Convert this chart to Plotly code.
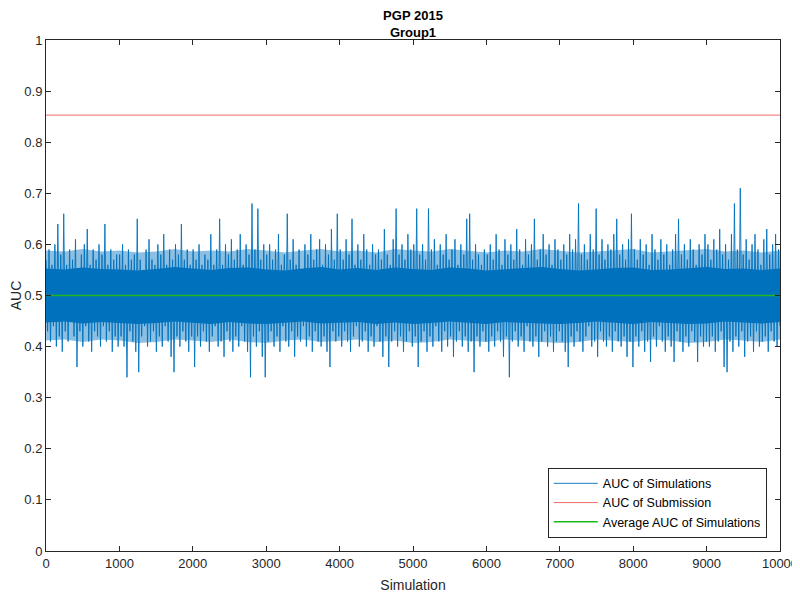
import numpy as np
import plotly.graph_objects as go

# AUC values: one local peak and one local trough
# for every 40 simulations (rows of 25 = 1000 simulations each)
sim_peaks = [
    0.57, 0.59, 0.56, 0.60, 0.64, 0.58, 0.66, 0.56, 0.59, 0.57, 0.61, 0.55, 0.58, 0.60, 0.63, 0.56, 0.59, 0.57, 0.60, 0.58, 0.64, 0.56, 0.59, 0.57, 0.58,
    0.58, 0.60, 0.56, 0.59, 0.57, 0.58, 0.65, 0.57, 0.55, 0.59, 0.61, 0.57, 0.56, 0.60, 0.58, 0.62, 0.56, 0.59, 0.57, 0.60, 0.58, 0.64, 0.57, 0.59, 0.56,
    0.59, 0.57, 0.60, 0.56, 0.58, 0.57, 0.62, 0.56, 0.59, 0.65, 0.56, 0.60, 0.58, 0.61, 0.57, 0.59, 0.62, 0.56, 0.60, 0.58, 0.68, 0.59, 0.67, 0.57, 0.60,
    0.58, 0.60, 0.57, 0.59, 0.62, 0.56, 0.58, 0.66, 0.57, 0.61, 0.56, 0.59, 0.55, 0.60, 0.58, 0.62, 0.57, 0.59, 0.61, 0.56, 0.60, 0.58, 0.63, 0.57, 0.66,
    0.59, 0.57, 0.61, 0.58, 0.65, 0.56, 0.60, 0.57, 0.62, 0.59, 0.56, 0.60, 0.58, 0.59, 0.57, 0.63, 0.58, 0.56, 0.61, 0.67, 0.58, 0.60, 0.57, 0.62, 0.59,
    0.60, 0.67, 0.58, 0.60, 0.57, 0.67, 0.59, 0.61, 0.56, 0.60, 0.58, 0.62, 0.57, 0.59, 0.61, 0.56, 0.60, 0.58, 0.65, 0.66, 0.57, 0.60, 0.58, 0.56, 0.59,
    0.58, 0.60, 0.57, 0.62, 0.59, 0.56, 0.61, 0.58, 0.60, 0.57, 0.63, 0.59, 0.56, 0.61, 0.58, 0.60, 0.65, 0.57, 0.59, 0.62, 0.58, 0.60, 0.56, 0.61, 0.59,
    0.57, 0.60, 0.58, 0.62, 0.59, 0.61, 0.68, 0.58, 0.60, 0.57, 0.62, 0.59, 0.67, 0.58, 0.61, 0.57, 0.60, 0.59, 0.62, 0.65, 0.58, 0.60, 0.57, 0.61, 0.66,
    0.59, 0.57, 0.61, 0.58, 0.60, 0.56, 0.62, 0.59, 0.57, 0.61, 0.58, 0.60, 0.56, 0.59, 0.62, 0.65, 0.58, 0.60, 0.57, 0.61, 0.59, 0.56, 0.60, 0.58, 0.62,
    0.60, 0.57, 0.61, 0.59, 0.63, 0.58, 0.60, 0.57, 0.62, 0.68, 0.59, 0.71, 0.58, 0.61, 0.57, 0.60, 0.62, 0.59, 0.56, 0.61, 0.63, 0.58, 0.60, 0.62, 0.59,
]
sim_troughs = [
    0.43, 0.41, 0.44, 0.40, 0.42, 0.39, 0.43, 0.41, 0.45, 0.42, 0.36, 0.43, 0.40, 0.44, 0.41, 0.39, 0.43, 0.42, 0.40, 0.44, 0.41, 0.43, 0.39, 0.42, 0.40,
    0.42, 0.40, 0.34, 0.43, 0.41, 0.39, 0.35, 0.42, 0.44, 0.40, 0.41, 0.43, 0.39, 0.42, 0.40, 0.44, 0.41, 0.38, 0.35, 0.42, 0.40, 0.43, 0.41, 0.39, 0.42,
    0.36, 0.42, 0.40, 0.43, 0.41, 0.39, 0.42, 0.44, 0.40, 0.41, 0.38, 0.43, 0.41, 0.39, 0.42, 0.40, 0.44, 0.41, 0.39, 0.34, 0.42, 0.40, 0.43, 0.38, 0.34,
    0.41, 0.43, 0.40, 0.42, 0.39, 0.44, 0.41, 0.40, 0.43, 0.38, 0.42, 0.41, 0.44, 0.40, 0.42, 0.39, 0.43, 0.41, 0.40, 0.42, 0.39, 0.36, 0.43, 0.41, 0.42,
    0.40, 0.43, 0.41, 0.39, 0.42, 0.44, 0.40, 0.41, 0.43, 0.39, 0.42, 0.40, 0.44, 0.41, 0.38, 0.42, 0.36, 0.41, 0.43, 0.40, 0.42, 0.39, 0.41, 0.43, 0.40,
    0.42, 0.36, 0.41, 0.43, 0.39, 0.42, 0.40, 0.44, 0.41, 0.39, 0.43, 0.40, 0.42, 0.38, 0.41, 0.43, 0.40, 0.42, 0.39, 0.41, 0.35, 0.42, 0.40, 0.43, 0.41,
    0.39, 0.42, 0.40, 0.43, 0.41, 0.38, 0.42, 0.34, 0.41, 0.43, 0.40, 0.42, 0.39, 0.44, 0.41, 0.40, 0.42, 0.38, 0.41, 0.43, 0.40, 0.42, 0.39, 0.41, 0.43,
    0.41, 0.39, 0.36, 0.42, 0.40, 0.43, 0.41, 0.39, 0.42, 0.44, 0.40, 0.41, 0.38, 0.43, 0.41, 0.40, 0.42, 0.39, 0.43, 0.41, 0.40, 0.42, 0.38, 0.41, 0.36,
    0.42, 0.40, 0.43, 0.39, 0.41, 0.37, 0.42, 0.40, 0.44, 0.41, 0.39, 0.42, 0.40, 0.37, 0.43, 0.41, 0.39, 0.42, 0.40, 0.43, 0.41, 0.37, 0.42, 0.40, 0.41,
    0.40, 0.42, 0.39, 0.41, 0.43, 0.36, 0.35, 0.41, 0.39, 0.42, 0.40, 0.43, 0.38, 0.41, 0.42, 0.39, 0.43, 0.40, 0.41, 0.42, 0.39, 0.43, 0.41, 0.40, 0.44,
]
# edges of the solid (saturated) core of the band, every 250 simulations
core_upper = [
    0.553, 0.551, 0.555, 0.552, 0.551, 0.549, 0.552, 0.556, 0.553, 0.55, 0.554, 0.555, 0.551, 0.549,
    0.553, 0.556, 0.551, 0.554, 0.55, 0.555, 0.552, 0.55, 0.555, 0.553, 0.549, 0.551, 0.554,
    0.556, 0.552, 0.549, 0.551, 0.554, 0.555, 0.55, 0.551, 0.554, 0.556, 0.552, 0.553, 0.55, 0.553,
]
core_lower = [
    0.447, 0.449, 0.445, 0.448, 0.446, 0.444, 0.446, 0.449, 0.447, 0.444, 0.448, 0.445, 0.444, 0.447,
    0.449, 0.445, 0.447, 0.448, 0.444, 0.447, 0.444, 0.446, 0.449, 0.447, 0.444, 0.448, 0.446,
    0.445, 0.444, 0.446, 0.449, 0.447, 0.444, 0.448, 0.446, 0.444, 0.445, 0.449, 0.447, 0.445, 0.448,
]
# edges of the half-dense fringe around the core, every 250 simulations
fringe_upper = [
    0.588, 0.586, 0.591, 0.586, 0.588, 0.584, 0.586, 0.591, 0.586, 0.588, 0.586, 0.591, 0.588, 0.584,
    0.588, 0.591, 0.586, 0.588, 0.584, 0.591, 0.588, 0.586, 0.591, 0.588, 0.584, 0.588, 0.586,
    0.591, 0.588, 0.584, 0.586, 0.588, 0.591, 0.584, 0.586, 0.588, 0.591, 0.586, 0.588, 0.584, 0.588,
]
fringe_lower = [
    0.412, 0.414, 0.409, 0.414, 0.412, 0.407, 0.409, 0.414, 0.412, 0.409, 0.414, 0.409, 0.407, 0.412,
    0.414, 0.409, 0.412, 0.414, 0.409, 0.412, 0.407, 0.409, 0.414, 0.412, 0.409, 0.414, 0.412,
    0.409, 0.407, 0.409, 0.414, 0.412, 0.409, 0.414, 0.412, 0.407, 0.409, 0.414, 0.412, 0.409, 0.414,
]
submission_auc = 0.853
average_auc = 0.5
n_simulations = 10000

x_ticks = list(range(0, 10001, 1000))
x_tick_labels = [str(v) for v in x_ticks]
y_ticks = [round(0.1 * i, 1) for i in range(11)]
y_tick_labels = ["0", "0.1", "0.2", "0.3", "0.4", "0.5", "0.6", "0.7", "0.8", "0.9", "1"]

# interleave peaks and troughs into one simulation series
sim_auc = np.empty(2 * len(sim_peaks))
sim_auc[0::2] = sim_peaks
sim_auc[1::2] = sim_troughs
sim_x = np.linspace(1, n_simulations, len(sim_auc))
band_x = np.linspace(1, n_simulations, len(core_upper))

axis_color = "#262626"
blue = "#0072BD"

fig = go.Figure()

# half-dense fringe and solid core of the band
for upper, lower, fill in [
    (fringe_upper, fringe_lower, "rgba(0,114,189,0.45)"),
    (core_upper, core_lower, blue),
]:
    fig.add_trace(
        go.Scatter(
            x=np.concatenate([band_x, band_x[::-1]]),
            y=np.concatenate([upper, lower[::-1]]),
            fill="toself",
            fillcolor=fill,
            mode="lines",
            line=dict(width=0, color=blue),
            legendgroup="sims",
            showlegend=False,
            hoverinfo="skip",
        )
    )

fig.add_trace(
    go.Scatter(
        x=sim_x,
        y=sim_auc,
        mode="lines",
        name="AUC of Simulations",
        legendgroup="sims",
        line=dict(color=blue, width=0.9),
    )
)

fig.add_trace(
    go.Scatter(
        x=[0, n_simulations],
        y=[submission_auc, submission_auc],
        mode="lines",
        name="AUC of Submission",
        line=dict(color="#F26B6B", width=1),
    )
)

fig.add_trace(
    go.Scatter(
        x=[0, n_simulations],
        y=[average_auc, average_auc],
        mode="lines",
        name="Average AUC of Simulations",
        line=dict(color="#1DB81D", width=1.5),
    )
)

axis_common = dict(
    showline=True,
    linecolor=axis_color,
    linewidth=1,
    mirror="ticks",
    ticks="inside",
    ticklen=5,
    tickcolor=axis_color,
    tickfont=dict(size=13, color=axis_color),
    ticklabeloverflow="allow",
    showgrid=False,
    zeroline=False,
    automargin=False,
)

fig.update_layout(
    width=792,
    height=586,
    template="none",
    paper_bgcolor="white",
    plot_bgcolor="white",
    font=dict(family="Liberation Sans, Arial, sans-serif", color=axis_color),
    margin=dict(l=38, r=20, t=32, b=43),
    title=dict(
        text="<b>PGP 2015</b><br><b>Group1</b>",
        xref="paper",
        x=0.5,
        xanchor="center",
        y=0.979,
        yanchor="top",
        font=dict(size=13, color="#000000"),
    ),
    xaxis=dict(
        range=[0, n_simulations],
        tickvals=x_ticks,
        ticktext=x_tick_labels,
        title=dict(text="Simulation", font=dict(size=14, color=axis_color), standoff=10),
        **axis_common,
    ),
    yaxis=dict(
        range=[0, 1],
        tickvals=y_ticks,
        ticktext=y_tick_labels,
        title=dict(text="AUC", font=dict(size=14, color=axis_color), standoff=2),
        **axis_common,
    ),
    showlegend=True,
    legend=dict(
        x=0.982,
        y=0.026,
        xanchor="right",
        yanchor="bottom",
        bgcolor="white",
        bordercolor=axis_color,
        borderwidth=1,
        font=dict(size=12.5, color="#000000"),
        itemwidth=44,
        tracegroupgap=0,
    ),
)

fig.write_html("out.html")
